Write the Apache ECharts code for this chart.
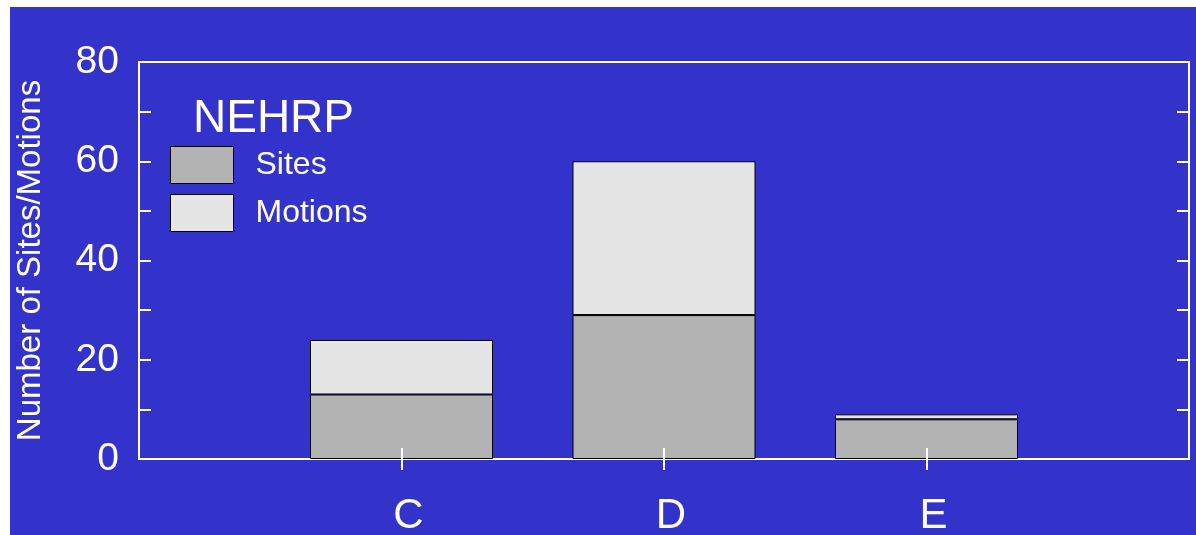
<!DOCTYPE html>
<html>
<head>
<meta charset="utf-8">
<script src="https://cdn.jsdelivr.net/npm/echarts@6/dist/echarts.min.js"></script>
<style>
  html, body { margin: 0; padding: 0; background: #ffffff; }
  #chart { position: absolute; left: 10px; top: 7px; width: 1186px; height: 528px; }
</style>
</head>
<body>
<div id="chart"></div>
<script>
// NEHRP site classes, padded with empty slots so C/D/E sit at 1/4, 2/4, 3/4 of the axis
const categories = ['', 'C', 'D', 'E', ''];
const sites = [null, 13, 29, 8, null];
const motions = [null, 11, 31, 1, null];
const yTicks = [0, 20, 40, 60, 80];

const white = '#ffffff';
const font = '"Liberation Sans", Arial, Helvetica, sans-serif';
const gridTop = 55, gridBottom = 76, chartHeight = 528;
const plotHeight = chartHeight - gridTop - gridBottom;

const chart = echarts.init(document.getElementById('chart'), null, { renderer: 'canvas' });

const tickOnClass = (i, v) => v !== '';

chart.setOption({
  backgroundColor: '#3333cc',
  animation: false,
  textStyle: { fontFamily: font },
  grid: {
    left: 129, top: gridTop, right: 7, bottom: gridBottom,
    containLabel: false, outerBoundsMode: 'none',
    show: true, borderColor: white, borderWidth: 2, backgroundColor: 'transparent'
  },
  legend: {
    orient: 'vertical',
    left: 160, top: 139, padding: 0,
    itemWidth: 63, itemHeight: 37, itemGap: 10,
    icon: 'rect',
    itemStyle: { borderColor: '#000000', borderWidth: 1 },
    textStyle: { color: white, fontSize: 32, fontFamily: font, padding: [0, 0, 0, 17] },
    data: ['Sites', 'Motions']
  },
  graphic: [{
    type: 'text',
    left: 183, top: 89,
    style: { text: 'NEHRP', fill: white, font: '46px ' + font }
  }],
  xAxis: [{
    type: 'category',
    data: categories,
    boundaryGap: false,
    z: 10,
    axisLine: { show: false },
    axisTick: {
      show: true, inside: false, length: 11,
      interval: tickOnClass,
      lineStyle: { color: white, width: 2 }
    },
    axisLabel: {
      color: white, fontSize: 42, margin: 36, interval: 0, fontFamily: font,
      padding: [0, 0, 0, 14]
    },
    splitLine: { show: false }
  }, {
    // upward tick halves, drawn from the bottom edge into the plot
    type: 'category',
    data: categories,
    boundaryGap: false,
    position: 'top',
    offset: -plotHeight,
    z: 10,
    axisLine: { show: false },
    axisTick: {
      show: true, inside: false, length: 11,
      interval: tickOnClass,
      lineStyle: { color: white, width: 2 }
    },
    axisLabel: { show: false },
    splitLine: { show: false }
  }],
  yAxis: [{
    type: 'value',
    min: 0, max: 80, interval: 10,
    name: 'Number of Sites/Motions',
    nameLocation: 'middle',
    nameGap: 92,
    nameTextStyle: { color: white, fontSize: 33, fontFamily: font },
    axisLine: { show: false },
    axisTick: { show: true, inside: true, length: 12, lineStyle: { color: white, width: 2 } },
    axisLabel: {
      color: white, fontSize: 39, margin: 20, fontFamily: font,
      formatter: v => (yTicks.indexOf(v) >= 0 ? String(v) : '')
    },
    splitLine: { show: false }
  }, {
    type: 'value',
    position: 'right',
    min: 0, max: 80, interval: 10,
    axisLine: { show: false },
    axisTick: { show: true, inside: true, length: 12, lineStyle: { color: white, width: 2 } },
    axisLabel: { show: false },
    splitLine: { show: false }
  }],
  series: [{
    name: 'Sites',
    type: 'bar',
    stack: 'n',
    data: sites,
    barWidth: 183,
    itemStyle: { color: '#b3b3b3', borderColor: '#000000', borderWidth: 1 }
  }, {
    name: 'Motions',
    type: 'bar',
    stack: 'n',
    data: motions,
    barWidth: 183,
    itemStyle: { color: '#e5e5e5', borderColor: '#000000', borderWidth: 1 }
  }]
});
</script>
</body>
</html>
